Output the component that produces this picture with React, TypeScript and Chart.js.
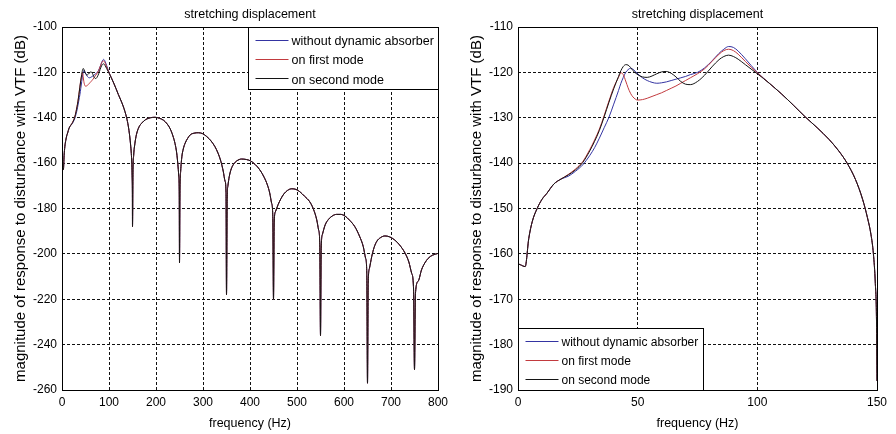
import React, { useEffect, useRef } from "react";
import { Chart, registerables } from "chart.js";

Chart.register(...registerables);

const FONT_FAMILY = '"Liberation Sans", Arial, sans-serif';

const chartTitle = "stretching displacement";
const xAxisLabel = "frequency (Hz)";
const yAxisLabel = "magnitude of response to disturbance with VTF (dB)";

const seriesNames = ["without dynamic absorber", "on first mode", "on second mode"];
const seriesColors = ["#3434a2", "#c23a3e", "#141414"];

// 0–18 Hz: identical for all three cases
const startFreq = [0, 1, 3, 4.5, 6, 8, 10, 12, 15, 18];
const startVals = [-162.2, -162.4, -162.8, -156.6, -152.8, -150.0, -148.0, -146.7, -144.6, -143.5];

// 21–100 Hz: the cases separate around the first two modes
const midFreq = [
  21, 24, 27, 30, 32, 34, 36, 38, 40, 42,
  43, 44, 45, 46, 47, 48,
  50, 52, 54, 56, 58, 60, 62, 64, 66, 68, 70, 72,
  75, 78, 81, 84, 86, 88, 90, 92, 95, 100,
];
const noAbsorberMid = [
  -142.9, -141.8, -140.4, -138.3, -136.6, -134.5, -132.2, -129.9, -127.0, -124.0,
  -122.4, -121.1, -120.0, -119.4, -119.1, -119.3,
  -120.3, -121.2, -121.8, -122.2, -122.4, -122.3, -122.1, -121.8, -121.5, -121.2, -120.9, -120.5,
  -120.0, -119.0, -117.5, -115.8, -114.9, -114.3, -114.5, -115.3, -117.0, -120.0,
];
const firstModeMid = [
  -142.5, -141.3, -139.7, -137.0, -134.9, -132.5, -129.5, -126.3, -123.3, -121.1,
  -120.1, -120.5, -121.9, -123.4, -124.6, -125.4,
  -126.1, -126.0, -125.7, -125.3, -124.9, -124.5, -124.0, -123.5, -123.0, -122.4, -121.8, -121.2,
  -120.3, -119.2, -117.6, -116.0, -115.2, -114.9, -115.2, -116.0, -117.6, -120.1,
];
const secondModeMid = [
  -142.6, -141.5, -139.9, -137.3, -135.2, -132.8, -129.8, -126.6, -123.6, -120.9,
  -119.6, -118.7, -118.3, -118.4, -118.9, -119.6,
  -120.5, -121.0, -121.1, -120.8, -120.3, -119.9, -119.8, -120.2, -121.0, -122.0, -122.6, -122.7,
  -122.0, -120.6, -118.8, -117.2, -116.5, -116.2, -116.5, -117.1, -118.3, -120.3,
];

// 105–150 Hz: roll-off into the first anti-resonance
const endFreq = [105, 110, 115, 120, 125, 130, 134, 137.5, 141, 144, 146, 147.5, 148.5, 149.3, 149.8, 150];
const endVals = [-122.4, -124.7, -127.2, -129.8, -132.2, -134.8, -137.3, -140.0, -143.6, -148.0, -152.0, -155.8, -160.0, -166.5, -175.0, -188.0];

// Above 150 Hz: lobes between anti-resonances (wide view only)
const tailFreq = [
  151, 152.5, 155, 158.5, 164, 170, 178, 188, 198, 207, 216, 224, 230, 236, 240.5, 244, 246.5, 248.5, 249.5, 250,
  251, 252.5, 255, 258, 262, 267, 273, 281, 290, 299, 308, 317, 325, 332, 338, 343, 347, 349, 350,
  351.5, 353, 356, 360, 365, 372, 382, 392, 401, 411, 421, 430, 437, 442, 446, 448.5, 450,
  451.5, 454, 460, 466, 472, 480, 489, 498, 506, 516, 527, 535, 542, 546, 548.5, 550,
  551.5, 554, 560, 567, 575, 584, 593, 602, 612, 623, 633, 641, 646, 648.5, 650,
  651.5, 654, 659, 664, 670, 678, 687, 697, 708, 718, 730, 738, 744, 748, 750,
  752, 758, 765, 772, 779, 788, 800,
];
const tailVals = [
  -164.0, -156.5, -151.5, -147.3, -144.0, -142.3, -140.8, -140.0, -139.8, -140.2, -141.1, -142.8, -144.8, -148.0, -151.4, -155.5, -160.5, -166.0, -174.0, -204.0,
  -172.0, -163.5, -157.2, -153.8, -151.2, -149.2, -147.5, -146.8, -146.6, -147.0, -148.3, -150.2, -152.6, -155.6, -159.2, -163.5, -168.0, -173.0, -218.0,
  -175.5, -170.0, -165.8, -162.6, -160.5, -159.0, -158.2, -158.4, -159.0, -160.6, -163.0, -166.2, -169.6, -173.2, -177.7, -183.5, -220.0,
  -186.0, -181.5, -178.2, -175.6, -173.6, -172.0, -171.3, -171.6, -172.6, -174.6, -177.0, -180.3, -185.0, -189.5, -196.0, -236.0,
  -197.5, -191.5, -187.2, -184.8, -183.3, -182.6, -182.6, -183.3, -185.2, -188.0, -192.2, -196.8, -202.0, -208.5, -257.0,
  -213.0, -206.5, -201.2, -197.2, -194.4, -192.8, -192.1, -192.5, -193.9, -196.0, -199.7, -203.6, -208.6, -215.5, -251.0,
  -217.5, -212.0, -207.0, -204.0, -202.0, -200.6, -199.8,
];

const wideXTicks = [0, 100, 200, 300, 400, 500, 600, 700, 800];
const wideYTicks = [-260, -240, -220, -200, -180, -160, -140, -120, -100];
const zoomXTicks = [0, 50, 100, 150];
const zoomYTicks = [-190, -180, -170, -160, -150, -140, -130, -120, -110];

const midSeries = [noAbsorberMid, firstModeMid, secondModeMid];

function toPoints(freqs: number[], vals: number[]) {
  return freqs.map((f, i) => ({ x: f, y: vals[i] }));
}

function buildDatasets(includeTail: boolean) {
  return midSeries.map((mid, i) => ({
    label: seriesNames[i],
    data: [
      ...toPoints(startFreq, startVals),
      ...toPoints(midFreq, mid),
      ...toPoints(endFreq, endVals),
      ...(includeTail ? toPoints(tailFreq, tailVals) : []),
    ],
    borderColor: seriesColors[i],
    backgroundColor: seriesColors[i],
    borderWidth: 1,
    pointRadius: 0,
    fill: false,
    cubicInterpolationMode: "monotone" as const,
    // later series are painted on top
    order: 3 - i,
  }));
}

// Axes frame, centred title and the boxed legend inside the plot area
const panelDecor = {
  id: "panelDecor",
  afterDraw(chart: any, _args: any, opts: any) {
    const { ctx, chartArea: a } = chart;
    ctx.save();
    ctx.setLineDash([]);
    ctx.strokeStyle = "#000";
    ctx.lineWidth = 1;
    const L = Math.round(a.left) + 0.5;
    const T = Math.round(a.top) + 0.5;
    const R = Math.round(a.right) + 0.5;
    const B = Math.round(a.bottom) + 0.5;
    ctx.strokeRect(L, T, R - L, B - T);

    ctx.fillStyle = "#000";
    ctx.font = `12.5px ${FONT_FAMILY}`;
    ctx.textAlign = "center";
    ctx.textBaseline = "middle";
    ctx.fillText(opts.title, (a.left + a.right) / 2, 15);

    // legend
    const ds = chart.data.datasets;
    ctx.font = `${opts.legendSize}px ${FONT_FAMILY}`;
    let maxW = 0;
    ds.forEach((d: any) => {
      maxW = Math.max(maxW, ctx.measureText(d.label).width);
    });
    const textX = 43;
    const boxW = Math.round(textX + maxW + 5);
    const boxH = 62;
    let bx: number;
    let by: number;
    if (opts.corner === "tr") {
      bx = R - boxW;
      by = T;
    } else {
      bx = L;
      by = B - boxH;
    }
    ctx.fillStyle = "#fff";
    ctx.fillRect(bx, by, boxW, boxH);
    ctx.strokeStyle = "#000";
    ctx.strokeRect(bx, by, boxW, boxH);
    ds.forEach((d: any, i: number) => {
      const sy = Math.round(by + 12 + i * 19.2) + 0.5;
      ctx.strokeStyle = d.borderColor;
      ctx.beginPath();
      ctx.moveTo(bx + 7, sy);
      ctx.lineTo(bx + 40, sy);
      ctx.stroke();
      ctx.fillStyle = "#000";
      ctx.textAlign = "left";
      ctx.textBaseline = "middle";
      ctx.fillText(d.label, bx + textX, by + 14 + i * 19.3);
    });
    ctx.restore();
  },
};

type PanelProps = {
  left: number;
  xMax: number;
  yMin: number;
  yMax: number;
  xTicks: number[];
  yTicks: number[];
  includeTail: boolean;
  yAxisWidth: number;
  padRight: number;
  yTitleCenter: number;
  legendCorner: "tr" | "bl";
  legendSize: number;
};

function Panel(p: PanelProps) {
  const ref = useRef<HTMLCanvasElement>(null);
  useEffect(() => {
    const canvas = ref.current;
    if (!canvas) return;
    const yTitleSize = 15;
    const chart = new Chart(canvas, {
      type: "line",
      data: { datasets: buildDatasets(p.includeTail) as any },
      options: {
        responsive: false,
        animation: false,
        devicePixelRatio: 1,
        events: [],
        layout: { padding: { top: 27, right: p.padRight, bottom: 0, left: 0 } },
        plugins: {
          legend: { display: false },
          tooltip: { enabled: false },
          title: { display: false },
          panelDecor: { title: chartTitle, corner: p.legendCorner, legendSize: p.legendSize },
        } as any,
        scales: {
          x: {
            type: "linear",
            min: 0,
            max: p.xMax,
            afterBuildTicks: (s: any) => {
              s.ticks = p.xTicks.map((v) => ({ value: v }));
            },
            afterFit: (s: any) => {
              s.height = 44;
              s.paddingLeft = 0;
              s.paddingRight = 0;
            },
            ticks: {
              font: { family: FONT_FAMILY, size: 12 },
              color: "#000",
              padding: 5,
              maxRotation: 0,
              autoSkip: false,
              callback: (v: any) => String(v),
            },
            grid: { color: "#111", lineWidth: 1, drawTicks: false },
            border: { display: false, dash: [3, 2] },
            title: {
              display: true,
              text: xAxisLabel,
              color: "#000",
              font: { family: FONT_FAMILY, size: 12.5 },
              padding: { top: 0, bottom: 3 },
            },
          },
          y: {
            type: "linear",
            min: p.yMin,
            max: p.yMax,
            afterBuildTicks: (s: any) => {
              s.ticks = p.yTicks.map((v) => ({ value: v }));
            },
            afterFit: (s: any) => {
              s.width = p.yAxisWidth;
              s.paddingTop = 0;
              s.paddingBottom = 0;
            },
            ticks: {
              font: { family: FONT_FAMILY, size: 12 },
              color: "#000",
              padding: 5,
              autoSkip: false,
              callback: (v: any) => String(v),
            },
            grid: { color: "#111", lineWidth: 1, drawTicks: false },
            border: { display: false, dash: [3, 2] },
            title: {
              display: true,
              text: yAxisLabel,
              color: "#000",
              font: { family: FONT_FAMILY, size: yTitleSize },
              padding: { top: p.yTitleCenter - (yTitleSize * 1.2) / 2, bottom: 0 },
            },
          },
        },
      },
      plugins: [panelDecor],
    });
    return () => chart.destroy();
  }, []);
  return (
    <canvas
      ref={ref}
      width={448}
      height={434}
      style={{ position: "absolute", left: p.left, top: 0, width: 448, height: 434 }}
    />
  );
}

export default function App() {
  return (
    <div
      style={{
        position: "fixed",
        left: 0,
        top: 0,
        width: 896,
        height: 434,
        background: "#fff",
        overflow: "hidden",
      }}
    >
      <Panel
        left={0}
        xMax={800}
        yMin={-260}
        yMax={-100}
        xTicks={wideXTicks}
        yTicks={wideYTicks}
        includeTail={true}
        yAxisWidth={62}
        padRight={10}
        yTitleCenter={20.5}
        legendCorner="tr"
        legendSize={12.5}
      />
      <Panel
        left={448}
        xMax={150}
        yMin={-190}
        yMax={-110}
        xTicks={zoomXTicks}
        yTicks={zoomYTicks}
        includeTail={false}
        yAxisWidth={70}
        padRight={19}
        yTitleCenter={29}
        legendCorner="bl"
        legendSize={12}
      />
    </div>
  );
}
